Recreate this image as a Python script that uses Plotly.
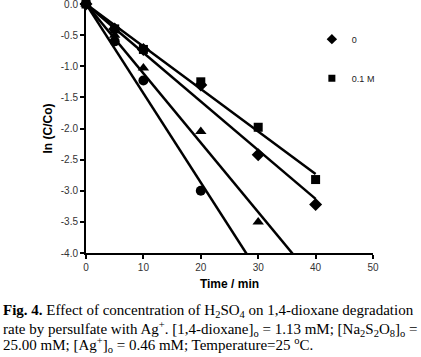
import numpy as np
import plotly.graph_objects as go

# ---- data ----
t_diamond = [0, 5, 10, 20, 30, 40]
y_diamond = [0.0, -0.40, -0.73, -1.30, -2.42, -3.22]
t_square = [0, 5, 10, 20, 30, 40]
y_square = [0.0, -0.40, -0.73, -1.25, -1.98, -2.82]
t_triangle = [0, 5, 10, 20, 30]
y_triangle = [0.0, -0.50, -1.03, -2.05, -3.50]
t_circle = [0, 5, 10, 20]
y_circle = [0.0, -0.60, -1.23, -3.00]

legend_names = ["0", "0.1 M"]
x_tickvals = [0, 10, 20, 30, 40, 50]
y_tickvals = [0.0, -0.5, -1.0, -1.5, -2.0, -2.5, -3.0, -3.5, -4.0]
y_ticktext = ["0.0", "-0.5", "-1.0", "-1.5", "-2.0", "-2.5", "-3.0", "-3.5", "-4.0"]
fit_t = [0, 40]

caption_lines = [
    "<b>Fig. 4.</b> Effect of concentration of H<sub>2</sub>SO<sub>4</sub> on 1,4-dioxane degradation",
    "rate by persulfate with Ag<sup>+</sup>. [1,4-dioxane]<sub>o</sub> = 1.13 mM; [Na<sub>2</sub>S<sub>2</sub>O<sub>8</sub>]<sub>o</sub> =",
    "25.00 mM; [Ag<sup>+</sup>]<sub>o</sub> = 0.46 mM; Temperature=25 <sup>o</sup>C.",
]


def fit_origin(t, y):
    t = np.array(t, float)
    y = np.array(y, float)
    k = (t * y).sum() / (t * t).sum()
    xs = np.array(fit_t, float)
    return xs, k * xs


fig = go.Figure()

series = [
    (t_diamond, y_diamond, "diamond", 10),
    (t_square, y_square, "square", 9),
    (t_triangle, y_triangle, "triangle-up", 10),
    (t_circle, y_circle, "circle", 10),
]

for t, y, sym, sz in series:
    xs, ys = fit_origin(t, y)
    fig.add_trace(go.Scatter(x=xs, y=ys, mode="lines",
                             line=dict(color="black", width=2.5),
                             showlegend=False, hoverinfo="skip"))

for t, y, sym, sz in series:
    fig.add_trace(go.Scatter(x=t, y=y, mode="markers",
                             marker=dict(symbol=sym, size=sz, color="black"),
                             showlegend=False, cliponaxis=False))

# legend entries (smaller symbols as in the reference legend)
for name, sym, sz in [(legend_names[0], "diamond", 8), (legend_names[1], "square", 7)]:
    fig.add_trace(go.Scatter(x=[None], y=[None], mode="markers", name=name,
                             legendgroup=name,
                             marker=dict(symbol=sym, size=sz, color="black"),
                             showlegend=True))

fig.update_layout(
    width=421, height=357,
    margin=dict(l=86, r=48, t=4, b=104, autoexpand=False),
    paper_bgcolor="white", plot_bgcolor="white",
    font=dict(family="Liberation Sans, Arial", color="#333333", size=10),
    legend=dict(x=0.787, y=0.917, xanchor="left", yanchor="top",
                font=dict(size=9, color="#222222"), bgcolor="rgba(0,0,0,0)",
                tracegroupgap=20, itemwidth=30),
    showlegend=True,
)

fig.update_xaxes(range=[0, 50], tickvals=x_tickvals, ticks="outside",
                 ticklen=4, tickwidth=1.5, tickcolor="black",
                 showline=True, linecolor="black", linewidth=2,
                 showgrid=False, zeroline=False, automargin=False,
                 ticklabeloverflow="allow",
                 title=dict(text="<b>Time / min</b>", font=dict(size=12, color="black"), standoff=8))
fig.update_yaxes(range=[-4.0, 0.0], tickvals=y_tickvals, ticktext=y_ticktext,
                 ticks="outside", ticklen=4, tickwidth=1.5, tickcolor="black",
                 showline=True, linecolor="black", linewidth=2,
                 showgrid=False, zeroline=False, automargin=False,
                 ticklabeloverflow="allow",
                 title=dict(text="<b>ln (C/Co)</b>", font=dict(size=12, color="black"), standoff=6))

# caption: three tightly-spaced lines, top positions in pixels from the figure top
line_tops = [300, 317, 333]
for txt, top in zip(caption_lines, line_tops):
    fig.add_annotation(text=txt, xref="paper", yref="paper",
                       x=-85 / 287, y=(253 - top) / 249, xanchor="left", yanchor="top",
                       align="left", showarrow=False,
                       font=dict(family="Liberation Serif, Times New Roman", size=15, color="black"))

fig.write_html("out.html", config={"displayModeBar": False},
               post_script="document.body.style.margin='0';")
